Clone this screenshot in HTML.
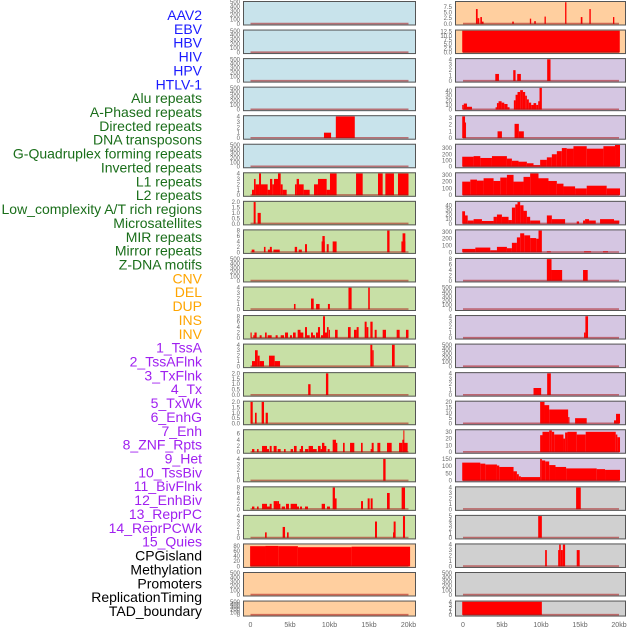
<!DOCTYPE html>
<html><head><meta charset="utf-8"><style>
body{margin:0;background:#fff}
svg{display:block;font-family:"Liberation Sans",sans-serif}
</style></head><body>
<svg id="chart" width="630" height="630" viewBox="0 0 630 630" xmlns="http://www.w3.org/2000/svg">
<g id="labels"></g>
<g id="panels"></g>
</svg>
<script>
const trackNames=["AAV2","EBV","HBV","HIV","HPV","HTLV-1","Alu repeats","A-Phased repeats","Directed repeats","DNA transposons","G-Quadruplex forming repeats","Inverted repeats","L1 repeats","L2 repeats","Low_complexity A/T rich regions","Microsatellites","MIR repeats","Mirror repeats","Z-DNA motifs","CNV","DEL","DUP","INS","INV","1_TssA","2_TssAFlnk","3_TxFlnk","4_Tx","5_TxWk","6_EnhG","7_Enh","8_ZNF_Rpts","9_Het","10_TssBiv","11_BivFlnk","12_EnhBiv","13_ReprPC","14_ReprPCWk","15_Quies","CPGisland","Methylation","Promoters","ReplicationTiming","TAD_boundary"];
const labelGroups=[6,13,5,15,5];
const labelColors=["#1a1aff","#1a6e1a","#ffa500","#a020f0","#000000"];
const xTicks=[0,5,10,15,20];
const xTickLabels=["0","5kb","10kb","15kb","20kb"];
const E=[0,100,200,300,400,500];
const T4=[0,1,2,3,4],T2=[0,0.5,1,1.5,2],T8=[0,2,4,6,8];
// left column: [bg, ymax, ticks, segments [startKb,endKb,value]]
const leftTracks=[
["b",500,E,[]],["b",500,E,[]],["b",500,E,[]],["b",500,E,[]],
["b",4,T4,[[9.3,10.2,1],[10.8,13.2,4]]],
["b",500,E,[]],
["g",4,T4,[[0.19,0.44,1],[0.44,0.65,3],[0.65,0.95,2],[0.95,1.08,2],[1.08,1.33,4],[1.33,2.17,2],[2.17,2.47,1],[2.47,2.76,3],[2.76,2.97,2],[2.97,3.48,3],[3.48,3.82,4],[3.82,4.07,2],[4.07,4.58,1],[5.63,5.84,2],[5.84,6.14,3],[6.14,6.73,2],[6.73,7.49,1],[8.04,8.54,2],[8.54,9.64,3],[9.64,10.06,1],[10.06,10.9,4],[13.36,14.2,4],[16.14,16.73,4],[17.07,18.16,4],[18.67,20.0,4]]],
["g",2,T2,[[0.4,0.65,2],[0.9,1.3,1]]],
["g",8,T8,[[0.15,0.5,1],[1.7,1.9,2],[2.2,2.7,1],[2.45,2.7,2],[2.9,3.7,1],[5.6,5.9,2],[6.1,6.5,1],[6.9,7.15,3],[9.0,9.4,4],[9.1,9.4,6],[9.65,9.9,3],[10.4,10.9,4],[17.3,17.6,8],[19.1,19.6,4],[19.25,19.6,7]]],
["g",500,E,[]],
["g",4,T4,[[5.5,5.7,1],[7.66,8.0,2],[8.3,8.75,1],[9.8,10.05,1],[12.4,12.8,4],[14.9,15.1,4]]],
["g",8,T8,[[0,0.15,2],[0.35,0.5,1],[0.5,0.78,2],[1.16,1.41,1],[1.84,2.05,2],[2.17,2.68,1],[3.18,3.44,1],[3.82,4.24,1],[4.37,4.75,2],[5.0,5.25,1],[5.38,5.72,2],[5.97,6.33,3],[6.33,6.69,2],[6.9,7.15,4],[7.15,7.49,1],[7.66,7.91,2],[7.91,8.16,1],[8.29,8.58,2],[8.54,8.8,4],[8.92,9.18,1],[9.18,9.43,8],[9.43,9.68,2],[9.68,9.89,4],[9.93,10.06,3],[10.7,11.03,3],[12.34,12.68,4],[13.1,13.44,3],[13.44,13.69,4],[14.45,14.7,6],[14.7,14.92,4],[15.17,15.46,6],[15.72,15.97,3],[16.73,17.15,3],[18.5,18.88,3],[19.68,20.0,3]]],
["g",4,T4,[[0.19,0.65,1],[0.57,0.91,3],[0.91,1.16,2],[1.16,1.71,1],[2.34,3.06,2],[3.06,3.74,1],[15.17,15.42,4],[15.42,15.59,3],[17.91,18.25,4]]],
["g",2,T2,[[7.3,7.6,1],[9.55,9.85,2]]],
["g",2,T2,[[0,0.28,2],[0.57,0.78,1],[1.41,1.71,2],[1.92,2.2,1]]],
["g",7,[0,2,4,6],[[0.19,0.49,1],[0.82,1.03,1],[1.46,2.09,2],[2.09,2.34,1],[2.43,2.68,2],[2.93,3.31,2],[3.44,3.82,1],[4.24,4.45,1],[5.08,5.38,1],[5.5,5.84,2],[6.22,6.6,1],[6.39,6.65,2],[6.9,7.32,1],[7.36,7.91,2],[7.83,8.38,1],[8.54,8.88,2],[8.88,9.05,1],[9.05,9.35,3],[9.3,9.6,2],[9.77,10.02,1],[10.4,10.82,4],[10.82,10.99,3],[11.71,11.92,3],[12.6,13.14,3],[13.99,14.2,3],[15.21,15.38,1],[15.34,15.59,3],[16.06,16.43,3],[17.28,17.87,3],[18.8,19.22,3],[19.22,19.43,4],[19.39,19.89,3],[19.35,19.47,7]]],
["g",4,T4,[[16.8,17.1,4]]],
["g",8,T8,[[0.19,0.49,1],[0.82,1.03,1],[1.46,2.09,2],[2.09,2.51,1],[2.43,2.68,2],[2.93,3.44,3],[3.19,3.78,2],[3.44,3.61,3],[3.95,4.37,1],[4.49,4.87,2],[5.08,5.89,2],[5.72,6.14,1],[6.27,6.52,1],[6.9,7.28,1],[9.01,9.43,2],[9.68,10.06,1],[10.4,10.69,8],[10.61,10.9,4],[13.99,14.24,3],[14.83,15.08,4],[15.21,15.46,4],[17.28,17.62,6],[19.13,19.56,8]]],
["g",4,T4,[[1.84,2.05,1],[4.07,4.37,2],[4.62,4.83,1],[15.76,16.01,3],[18.04,18.16,1],[18.12,18.37,3],[19.3,19.56,4]]],
["o",85,[0,20,40,60,80],[[-0.05,1.9,79],[1.9,3.52,80],[3.52,6.0,79],[6.0,12.8,75],[12.8,20.2,77]]],
["o",500,E,[]],
["o",500,E,[]]
];
const rightTracks=[
["o",9.5,[0,2.5,5,7.5],[[1.66,1.88,6.5],[1.88,2.09,2.5],[2.22,2.43,3],[2.43,2.64,1],[6.31,6.52,1],[8.57,8.74,2.3],[9.13,9.34,1.2],[10.45,10.62,3.2],[13.09,13.26,9.5],[15.1,15.31,3],[16.2,16.38,6.5],[19.23,19.4,3]]],
["o",13,[0,2.5,5,7.5,10,12.5],[[-0.1,20.1,13]]],
["p",4,T4,[[4.14,4.61,1.3],[6.44,6.74,2],[6.95,7.42,1.3],[10.79,11.22,4]]],
["p",47,[0,10,20,30,40],[[-0.1,0.1,10],[0.1,0.51,13],[0.51,1.15,6],[4.18,4.35,5],[4.35,4.56,14],[4.56,4.95,18],[4.95,5.29,15],[5.29,5.71,12],[5.71,5.97,5],[6.52,6.74,20],[6.74,6.99,32],[6.99,7.33,38],[7.33,7.68,42],[7.68,7.97,38],[7.97,8.19,30],[8.19,8.44,22],[8.44,8.74,15],[8.74,9.04,10],[9.04,9.38,14],[9.38,9.64,10],[9.64,9.81,18],[9.81,10.11,47]]],
["p",3.2,[0,1,2,3],[[-0.1,0.26,3.2],[0.26,0.38,2.3],[4.43,4.99,1],[6.61,7.16,2.1],[7.16,7.8,1]]],
["p",350,[0,100,200,300],[[-0.1,1.36,160],[1.36,2.22,170],[2.22,3.71,140],[3.71,5.63,170],[5.63,6.27,130],[6.27,7.12,95],[7.12,8.19,80],[8.19,9.04,55],[9.04,9.89,25],[9.89,10.75,110],[10.75,11.39,150],[11.39,12.03,200],[12.03,12.67,250],[12.67,13.3,300],[13.3,14.16,290],[14.16,15.86,330],[15.86,18.0,290],[18.0,19.49,330],[19.49,20.13,350]]],
["p",320,[0,100,200,300],[[-0.1,0.94,200],[0.94,1.79,230],[1.79,2.64,215],[2.64,3.92,250],[3.92,4.78,210],[4.78,5.63,260],[5.63,6.48,300],[6.48,7.76,200],[7.76,8.61,270],[8.61,9.68,320],[9.68,10.96,250],[10.96,12.03,210],[12.03,12.88,170],[12.88,14.37,130],[14.37,15.86,100],[15.86,18.42,140],[18.42,20.13,100]]],
["p",47,[0,10,20,30,40],[[-0.1,0.26,27],[0.26,0.6,18],[0.6,1.36,7],[1.36,2.43,10],[2.43,3.92,6],[3.92,4.35,15],[4.35,4.99,20],[4.99,5.84,15],[5.84,6.27,8],[6.27,6.7,35],[6.7,6.99,42],[6.99,7.33,47],[7.33,7.76,40],[7.76,8.19,28],[8.19,8.61,15],[8.61,9.89,7],[10.75,11.39,18],[11.39,13.09,10],[14.58,14.88,5],[15.39,15.65,7],[15.65,16.16,10],[16.16,17.02,7],[17.57,19.36,10],[19.36,20.04,7]]],
["p",320,[0,100,200,300],[[-0.1,1.58,50],[1.58,3.5,70],[3.5,4.35,30],[4.35,5.63,80],[5.63,6.27,60],[6.27,6.91,140],[6.91,7.33,220],[7.33,7.85,280],[7.85,8.61,250],[8.61,9.38,210],[9.38,9.68,200],[9.68,10.11,320],[10.75,11.26,15],[15.52,16.42,15],[17.95,18.59,15]]],
["p",8,T8,[[10.75,11.35,8],[11.35,12.71,4],[15.39,15.99,4]]],
["p",500,E,[]],
["p",4,T4,[[15.52,15.69,1],[15.69,16.03,4]]],
["p",500,E,[]],
["p",4,T4,[[9.04,10.02,1.3],[10.79,11.26,4]]],
["p",20,[0,5,10,15,20],[[9.89,10.45,20],[10.45,11.05,17],[11.05,13.48,13],[13.48,13.65,6],[14.37,15.86,5],[19.36,19.7,3],[19.62,20.13,9]]],
["p",32,[0,10,20,30],[[9.89,10.19,25],[10.19,11.05,30],[11.05,11.39,32],[11.39,11.69,30],[11.69,12.88,26],[12.88,13.09,20],[13.09,13.39,29],[13.39,14.58,30],[14.58,15.73,26],[15.73,19.58,30],[19.58,19.79,26],[19.79,20.13,22]]],
["p",150,[0,50,100,150],[[-0.1,2.22,125],[2.22,2.86,118],[2.86,4.35,112],[4.35,4.65,105],[4.65,6.48,95],[6.48,6.91,65],[6.91,7.16,45],[7.16,7.42,30],[7.42,9.89,25],[9.89,10.11,150],[10.11,10.54,140],[10.54,11.05,133],[11.05,11.86,108],[11.86,13.22,95],[13.22,17.14,85],[17.14,18.21,80],[18.21,20.13,75]]],
["y",4,T4,[[14.5,15.1,4]]],
["y",5,[0,1,2,3,4,5],[[9.64,10.11,5]]],
["y",4,T4,[[10.53,10.75,3],[12.2,12.45,3],[12.33,12.54,4],[12.54,12.8,3],[12.8,13.09,4],[14.58,14.96,3]]],
["y",500,E,[]],
["y",4,T4,[[-0.1,10.11,4]]]
];
const bgColors={b:"#c8e3eb",g:"#c8e0a6",o:"#ffcf9f",p:"#d5c6e2",y:"#d0d0d0"};
const NS="http://www.w3.org/2000/svg";
function mk(tag,attrs,parent){const e=document.createElementNS(NS,tag);for(const k in attrs)e.setAttribute(k,attrs[k]);parent.appendChild(e);return e;}
const svg=document.getElementById('chart');
const labG=document.getElementById('labels');
let li=0;
labelGroups.forEach((n,gi)=>{for(let k=0;k<n;k++){const t=mk('text',{x:202,y:20+li*13.86,'text-anchor':'end','font-size':'14',fill:labelColors[gi]},labG);t.textContent=trackNames[li];


li++;}});
const panG=document.getElementById('panels');
const cols=[{tracks:leftTracks,x0:243,x1:416,z:250.5,k:7.9,tx:240,off:0},{tracks:rightTracks,x0:455,x1:626,z:463,k:7.8,tx:452,off:22}];
function fmt(v,ticks){const dec=ticks.some(t=>t%1!==0);return dec?v.toFixed(1):String(v);}
cols.forEach(c=>{
 const xs=kb=>c.z+kb*c.k;
 c.tracks.forEach((tr,i)=>{
  const top=1+i*28.55, h=(i===21)?16:24.5;
  const g=mk('g',{},panG);
  
  
  mk('rect',{x:c.x0,y:top,width:c.x1-c.x0,height:h,fill:bgColors[tr[0]]},g);
  const yb=top+h-1.6, yt=top+1.2;
  const ys=v=>yb-(v/tr[1])*(yb-yt);
  tr[3].forEach(s=>{
   const r=mk('rect',{x:xs(Math.max(s[0],-0.1)),y:ys(s[2]),width:Math.max(1,xs(s[1])-xs(s[0])),height:yb-ys(s[2]),fill:'#ff0000'},g);
   
   
  });
  mk('line',{x1:xs(0),x2:xs(20),y1:yb-0.3,y2:yb-0.3,stroke:'rgba(170,20,20,0.55)','stroke-width':1.6},g);
  mk('rect',{x:c.x0+0.5,y:top+0.5,width:c.x1-c.x0-1,height:h-1,fill:'none',stroke:'#555','stroke-width':1},g);
  tr[2].forEach(v=>{const t=mk('text',{x:c.tx,y:ys(v)+2,'text-anchor':'end','font-size':'6',fill:'#666'},g);t.textContent=fmt(v,tr[2]);
   
   });
 });
 xTicks.forEach((v,j)=>{const t=mk('text',{x:xs(v),y:627,'text-anchor':'middle','font-size':'7',fill:'#666'},panG);t.textContent=xTickLabels[j];
  
  });
});
</script>
</body></html>
